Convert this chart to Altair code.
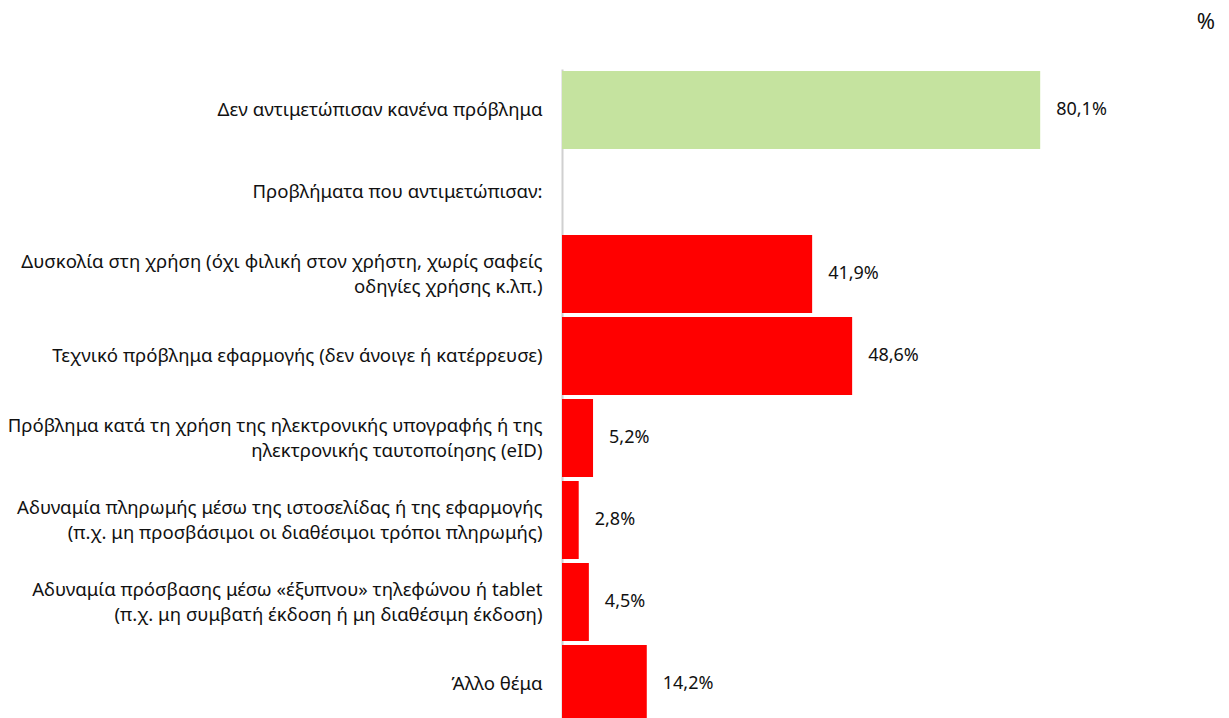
import altair as alt
import pandas as pd

categories = [
    "Δεν αντιμετώπισαν κανένα πρόβλημα",
    "Προβλήματα που αντιμετώπισαν:",
    "Δυσκολία στη χρήση  (όχι φιλική στον χρήστη, χωρίς σαφείς\nοδηγίες χρήσης κ.λπ.)",
    "Τεχνικό πρόβλημα  εφαρμογής (δεν άνοιγε ή κατέρρευσε)",
    "Πρόβλημα κατά τη χρήση της ηλεκτρονικής υπογραφής ή της\nηλεκτρονικής ταυτοποίησης (eID)",
    "Αδυναμία πληρωμής μέσω της ιστοσελίδας ή της εφαρμογής\n(π.χ. μη προσβάσιμοι οι διαθέσιμοι τρόποι πληρωμής)",
    "Αδυναμία πρόσβασης μέσω «έξυπνου» τηλεφώνου ή tablet\n(π.χ. μη συμβατή έκδοση ή μη διαθέσιμη έκδοση)",
    "Άλλο θέμα",
]
values = [80.1, None, 41.9, 48.6, 5.2, 2.8, 4.5, 14.2]
groups = ["none", "header", "problem", "problem", "problem", "problem", "problem", "problem"]

df = pd.DataFrame({"cat": categories, "value": values, "group": groups})

FONT = "Noto Sans"
FS = 18.6
LH = 25

y_scale = alt.Scale(domain=categories, paddingInner=0.05, paddingOuter=0.025)

y_enc = alt.Y(
    "cat:N",
    sort=categories,
    title=None,
    scale=y_scale,
    axis=alt.Axis(
        ticks=False,
        grid=False,
        domainColor="#d0d0d0",
        domainWidth=2,
        labelFont=FONT,
        labelFontSize=FS,
        labelColor="#111111",
        labelPadding=20,
        labelLimit=700,
        labelLineHeight=LH,
        labelExpr="split(datum.label, '\\n')",
        labelOffset={"expr": f"-(length(split(datum.value, '\\n')) - 1) * {LH / 2}"},
    ),
)

x_enc = alt.X(
    "value:Q",
    scale=alt.Scale(domain=[0, 100]),
    axis=None,
)

base = alt.Chart(df)

bars = base.transform_filter("isValid(datum.value)").mark_bar().encode(
    y=y_enc,
    x=x_enc,
    color=alt.Color(
        "group:N",
        scale=alt.Scale(domain=["none", "problem"], range=["#c5e39f", "#ff0000"]),
        legend=None,
    ),
)

texts = base.transform_filter("isValid(datum.value)").transform_calculate(
    lbl="replace(format(datum.value, '.1f'), '.', ',') + '%'"
).mark_text(align="left", baseline="middle", dx=16, font=FONT, fontSize=18, color="#111111").encode(
    y=alt.Y("cat:N", sort=categories, scale=y_scale),
    x="value:Q",
    text="lbl:N",
)

chart = (
    alt.layer(bars, texts)
    .properties(
        width=597,
        height=656,
        autosize=alt.AutoSizeParams(type="none"),
        padding={"left": 554, "top": 61, "right": 62, "bottom": 0},
        title=alt.TitleParams(
            "%",
            anchor="end",
            frame="group",
            font=FONT,
            fontSize=22,
            fontWeight="normal",
            color="#111111",
            dx=56,
            offset=35,
        ),
    )
    .configure_view(stroke=None)
)

chart.save("out.html", embed_options={"renderer": "svg", "actions": False})
